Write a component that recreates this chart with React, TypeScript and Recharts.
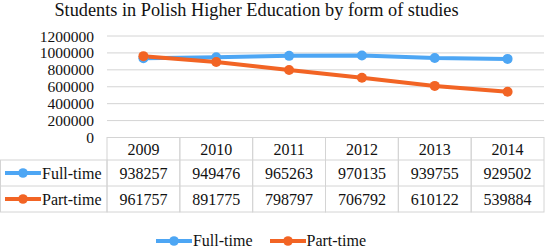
import React from 'react';
import { ComposedChart, Line, XAxis, YAxis, CartesianGrid, Legend, Customized } from 'recharts';

const years = ['2009', '2010', '2011', '2012', '2013', '2014'];
const fullTime = [938257, 949476, 965263, 970135, 939755, 929502];
const partTime = [961757, 891775, 798797, 706792, 610122, 539884];
const yTicks = [0, 200000, 400000, 600000, 800000, 1000000, 1200000];
const seriesNames = ['Full-time', 'Part-time'];
const seriesValues = [fullTime, partTime];
const colors = ['#4DA6F4', '#F26424'];
const title = 'Students in Polish Higher Education by form of studies';

const data = years.map((y, i) => ({ year: y, full: fullTime[i], part: partTime[i] }));

const W = 545;
const H = 248;
const FONT = 'Tinos, "Liberation Serif", "DejaVu Serif", "Times New Roman", serif';
const Y_AXIS_W = 107;
const MARGIN = { top: 36, right: 1, left: 0, bottom: 0 };
const PLOT_BOTTOM = 137.5;
const X_AXIS_H = H - MARGIN.bottom - PLOT_BOTTOM;
const PLOT_W = W - MARGIN.left - MARGIN.right - Y_AXIS_W;
const ROW_H = [22.5, 26, 26];
const GRID = '#d4d4d4';
const TEXT = '#111';

const Icon = ({ x, cy, color }: { x: number; cy: number; color: string }) => (
  <g>
    <line x1={x} y1={cy} x2={x + 36} y2={cy} stroke={color} strokeWidth={4} />
    <circle cx={x + 18} cy={cy} r={4.8} fill={color} />
  </g>
);

const TableTick = (props: any) => {
  const { x, y, payload, index } = props;
  const bw = PLOT_W / years.length;
  const left = x - bw / 2;
  const total = ROW_H[0] + ROW_H[1] + ROW_H[2];
  const r1 = y + ROW_H[0];
  const r2 = r1 + ROW_H[1];
  const bottom = r2 + ROW_H[2];
  const i = index ?? payload.index;
  return (
    <g>
      <rect x={left} y={y} width={bw} height={total} fill="none" stroke={GRID} strokeWidth={1} />
      <line x1={left} x2={left + bw} y1={r1} y2={r1} stroke={GRID} />
      <line x1={left} x2={left + bw} y1={r2} y2={r2} stroke={GRID} />
      <text x={x} y={y + ROW_H[0] / 2 + 1} textAnchor="middle" dominantBaseline="central" style={{ fontFamily: FONT }} fontSize={16} fill={TEXT}>
        {payload.value}
      </text>
      {seriesValues.map((vals, s) => (
        <text key={s} x={x} y={(s === 0 ? r1 : r2) + ROW_H[s + 1] / 2} textAnchor="middle" dominantBaseline="central" style={{ fontFamily: FONT }} fontSize={16} fill={TEXT}>
          {vals[i]}
        </text>
      ))}
      {i === 0 && (
        <g>
          <rect x={0.5} y={r1} width={left - 0.5} height={bottom - r1} fill="none" stroke={GRID} />
          <line x1={0.5} x2={left} y1={r2} y2={r2} stroke={GRID} />
          {seriesNames.map((n, s) => {
            const cy = (s === 0 ? r1 : r2) + ROW_H[s + 1] / 2;
            return (
              <g key={n}>
                <Icon x={5} cy={cy} color={colors[s]} />
                <text x={42} y={cy} dominantBaseline="central" style={{ fontFamily: FONT }} fontSize={16} fill={TEXT}>
                  {n}
                </text>
              </g>
            );
          })}
        </g>
      )}
    </g>
  );
};

const LegendContent = () => (
  <div style={{ display: 'flex', justifyContent: 'center', alignItems: 'center', fontFamily: FONT, fontSize: 16, color: TEXT, lineHeight: '18px' }}>
    {seriesNames.map((n, s) => (
      <div key={n} style={{ display: 'flex', alignItems: 'center', marginRight: s === 0 ? 16 : 0 }}>
        <svg width={38} height={12} style={{ display: 'block' }}>
          <Icon x={1} cy={6} color={colors[s]} />
        </svg>
        <span>{n}</span>
      </div>
    ))}
  </div>
);

const Title = () => (
  <text x={256.5} y={16.3} textAnchor="middle" style={{ fontFamily: FONT }} fontSize={18.3} fill={TEXT}>
    {title}
  </text>
);

export default function App() {
  return (
    <div style={{ position: 'absolute', left: 0, top: 0, width: W, height: H, background: '#fff', fontFamily: FONT, overflow: 'hidden' }}>
      <ComposedChart width={W} height={H} data={data} margin={MARGIN} style={{ fontFamily: FONT }}>
        <CartesianGrid vertical={false} stroke={GRID} strokeWidth={1} />
        <XAxis
          dataKey="year"
          scale="band"
          height={X_AXIS_H}
          axisLine={false}
          tickLine={false}
          tickSize={0}
          tickMargin={0}
          interval={0}
          tick={<TableTick />}
        />
        <YAxis
          width={Y_AXIS_W}
          domain={[0, 1200000]}
          ticks={yTicks}
          interval={0}
          axisLine={false}
          tickLine={false}
          tickSize={0}
          tickMargin={13}
          tick={{ fontFamily: FONT, fontSize: 15.5, fill: TEXT }}
        />
        <Legend
          layout="horizontal"
          align="center"
          verticalAlign="middle"
          content={<LegendContent />}
          wrapperStyle={{ top: 232, left: 0, width: 521 }}
        />
        <Line dataKey="full" name={seriesNames[0]} stroke={colors[0]} strokeWidth={4} dot={{ r: 5, fill: colors[0], stroke: 'none' }} isAnimationActive={false} />
        <Line dataKey="part" name={seriesNames[1]} stroke={colors[1]} strokeWidth={4} dot={{ r: 5, fill: colors[1], stroke: 'none' }} isAnimationActive={false} />
        <Customized component={<Title />} />
      </ComposedChart>
    </div>
  );
}
